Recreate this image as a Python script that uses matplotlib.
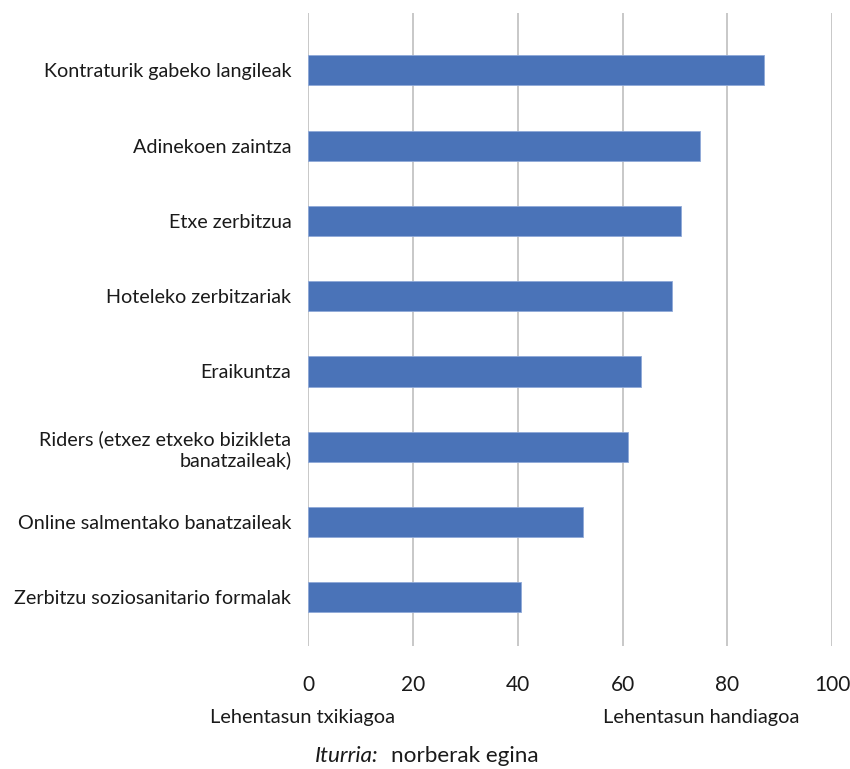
import matplotlib
matplotlib.use("Agg")
import matplotlib.pyplot as plt

plt.rcParams["font.family"] = ["Lato", "DejaVu Sans"]

# --- Data (bottom to top) ---
categories = [
    "Zerbitzu soziosanitario formalak",
    "Online salmentako banatzaileak",
    "Riders (etxez etxeko bizikleta\nbanatzaileak)",
    "Eraikuntza",
    "Hoteleko zerbitzariak",
    "Etxe zerbitzua",
    "Adinekoen zaintza",
    "Kontraturik gabeko langileak",
]
values = [40.6, 52.4, 61.1, 63.5, 69.4, 71.1, 74.7, 87.0]
xticks = [0, 20, 40, 60, 80, 100]

BAR = "#4A73B8"
GRID = "#BFBFBF"
TXT = "#1a1a1a"

fig = plt.figure(figsize=(8.5, 7.69), dpi=100)
ax = fig.add_axes([0.3624, 0.16, 0.6168, 0.823])

y = range(len(categories))
ax.barh(y, values, height=0.4, color=BAR, edgecolor="#8FA9D8", linewidth=0.6, zorder=3)

ax.set_xlim(0, 100)
ax.set_ylim(-0.645, 7.76)
ax.set_xticks(xticks)
ax.set_xticklabels([str(t) for t in xticks], fontsize=15, color=TXT)
ax.set_yticks(list(y))
ax.set_yticklabels(categories, fontsize=14.2, color=TXT, ha="right",
                   multialignment="right")
ax.tick_params(axis="both", length=0)
ax.tick_params(axis="x", pad=21)
ax.tick_params(axis="y", pad=12)

ax.grid(axis="x", color=GRID, linewidth=1.2, zorder=0)
for s in ax.spines.values():
    s.set_visible(False)

fig.text(210 / 850, 1 - 717 / 769, "Lehentasun txikiagoa", fontsize=14.4,
         color=TXT, ha="left", va="center")
fig.text(603 / 850, 1 - 717 / 769, "Lehentasun handiagoa", fontsize=14.4,
         color=TXT, ha="left", va="center")
fig.text(315 / 850, 1 - 756 / 769, "Iturria:", fontsize=16.2, style="italic",
         color=TXT, ha="left", va="center")
fig.text(391 / 850, 1 - 756 / 769, "norberak egina", fontsize=16.2,
         color=TXT, ha="left", va="center")

fig.savefig("out.png", dpi=100)
